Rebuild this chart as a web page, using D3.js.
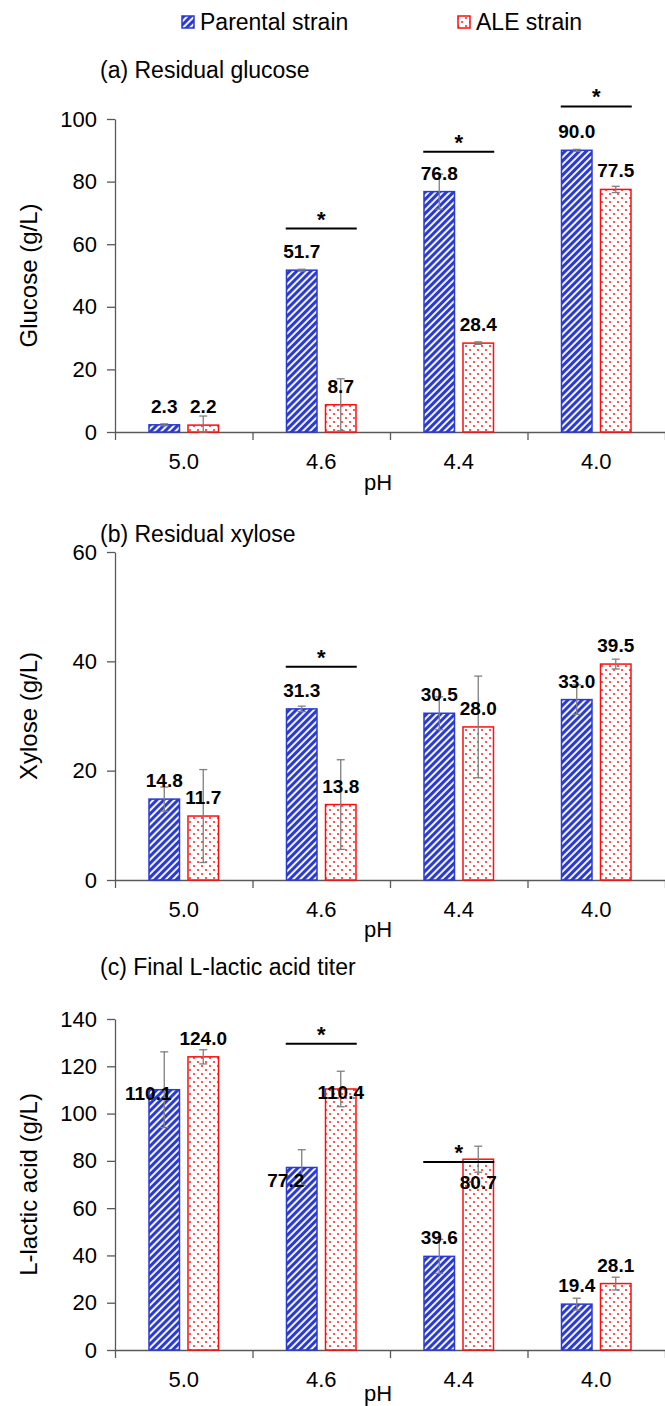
<!DOCTYPE html>
<html>
<head>
<meta charset="utf-8">
<title>Residual sugars and L-lactic acid titer</title>
<style>
  body { margin: 0; background: #fff; }
  svg { display: block; font-family: "Liberation Sans", Arial, sans-serif; }
  .tick text { font-size: 22px; fill: #000; }
  .axis path, .axis line { stroke: #595959; stroke-width: 1.3; }
</style>
</head>
<body>
<svg id="chart"></svg>
<script src="https://cdn.jsdelivr.net/npm/d3@7"></script>
<script>
// data
var categories = ["5.0", "4.6", "4.4", "4.0"];
var seriesNames = ["Parental strain", "ALE strain"];

var glucoseParental = [2.3, 51.7, 76.8, 90.0];
var glucoseParentalErr = [0.3, 0.3, 5.6, 0.3];
var glucoseAle = [2.2, 8.7, 28.4, 77.5];
var glucoseAleErr = [2.9, 8.3, 0.4, 1.0];
var glucoseSig = [null, 65, 89.5, 104];
var glucoseTicks = [0, 20, 40, 60, 80, 100];

var xyloseParental = [14.8, 31.3, 30.5, 33.0];
var xyloseParentalErr = [2.2, 0.5, 3.0, 2.7];
var xyloseAle = [11.7, 13.8, 28.0, 39.5];
var xyloseAleErr = [8.5, 8.2, 9.3, 0.9];
var xyloseSig = [null, 39, null, null];
var xyloseTicks = [0, 20, 40, 60];

var lacticParental = [110.1, 77.2, 39.6, 19.4];
var lacticParentalErr = [16.0, 7.5, 7.2, 2.5];
var lacticAle = [124.0, 110.4, 80.7, 28.1];
var lacticAleErr = [3.0, 7.5, 5.5, 2.7];
var lacticSig = [null, 129.5, 79.5, null];
var lacticTicks = [0, 20, 40, 60, 80, 100, 120, 140];

var W = 665, H = 1406;
var blue = "#2a3ad4", red = "#ff0d0d", errColor = "#7f7f7f";

var svg = d3.select("#chart").attr("width", W).attr("height", H);

// fill patterns
var defs = svg.append("defs");
var hatch = defs.append("pattern")
    .attr("id", "hatch").attr("patternUnits", "userSpaceOnUse")
    .attr("width", 5).attr("height", 5)
    .attr("patternTransform", "rotate(45)");
hatch.append("rect").attr("width", 5).attr("height", 5).attr("fill", "#fff");
hatch.append("rect").attr("width", 3.1).attr("height", 5).attr("fill", blue);

var dots = defs.append("pattern")
    .attr("id", "dots").attr("patternUnits", "userSpaceOnUse")
    .attr("width", 8).attr("height", 8);
dots.append("rect").attr("width", 8).attr("height", 8).attr("fill", "#fff");
dots.append("circle").attr("cx", 2).attr("cy", 2).attr("r", 0.95).attr("fill", red);
dots.append("circle").attr("cx", 6).attr("cy", 6).attr("r", 0.95).attr("fill", red);

var fills = ["url(#hatch)", "url(#dots)"];
var strokes = [blue, red];

// legend
var legend = svg.append("g");
var legendX = [182, 458];
seriesNames.forEach(function(name, i) {
  legend.append("rect")
    .attr("x", legendX[i]).attr("y", 16).attr("width", 12).attr("height", 12)
    .attr("fill", fills[i]).attr("stroke", strokes[i]).attr("stroke-width", 1.5);
  legend.append("text")
    .attr("x", legendX[i] + 18).attr("y", 30)
    .attr("font-size", 23).text(name);
});

var panels = [
  { title: "(a) Residual glucose", ylabel: "Glucose (g/L)", top: 119, bottom: 432, titleY: 78,
    ticks: glucoseTicks, p: glucoseParental, pe: glucoseParentalErr,
    a: glucoseAle, ae: glucoseAleErr, sig: glucoseSig, nudge: {}, phGap: 58 },
  { title: "(b) Residual xylose", ylabel: "Xylose (g/L)", top: 552, bottom: 880, titleY: 542,
    ticks: xyloseTicks, p: xyloseParental, pe: xyloseParentalErr,
    a: xyloseAle, ae: xyloseAleErr, sig: xyloseSig, nudge: {}, phGap: 57 },
  { title: "(c) Final L-lactic acid titer", ylabel: "L-lactic acid (g/L)", top: 1019, bottom: 1350, titleY: 975,
    ticks: lacticTicks, p: lacticParental, pe: lacticParentalErr,
    a: lacticAle, ae: lacticAleErr, sig: lacticSig,
    nudge: { "0-0": [-16, 22], "1-0": [-16, 32], "1-1": [0, 22], "2-1": [0, 42] }, phGap: 51 }
];

var left = 115, right = 665;

panels.forEach(function(pn, pi) {
  var g = svg.append("g");
  var ymax = d3.max(pn.ticks);

  var x = d3.scaleBand().domain(categories).range([left, right])
      .paddingInner(0.4836).paddingOuter(0.2418);
  var xs = d3.scaleBand().domain([0, 1]).range([0, x.bandwidth()]).paddingInner(0.1795);
  var xEdge = d3.scaleLinear().domain([0, categories.length]).range([left, right]);
  var y = d3.scaleLinear().domain([0, ymax]).range([pn.bottom, pn.top]);

  // title
  g.append("text").attr("x", 100).attr("y", pn.titleY)
    .attr("font-size", 23).text(pn.title);

  // y axis
  g.append("g").attr("class", "axis")
    .attr("transform", "translate(" + left + ",0)")
    .call(d3.axisLeft(y).tickValues(pn.ticks).tickFormat(d3.format("d"))
      .tickSize(8).tickSizeOuter(0).tickPadding(10));

  // x axis: boundary ticks + centred labels
  g.append("g").attr("class", "axis")
    .attr("transform", "translate(0," + pn.bottom + ")")
    .call(d3.axisBottom(xEdge).tickValues(d3.range(categories.length + 1))
      .tickFormat("").tickSize(8).tickSizeOuter(0));
  var xl = g.append("g").attr("class", "axis")
    .attr("transform", "translate(0," + pn.bottom + ")")
    .call(d3.axisBottom(x).tickSize(0).tickPadding(21));
  xl.select(".domain").remove();

  g.append("text").attr("x", 378).attr("y", pn.bottom + pn.phGap)
    .attr("text-anchor", "middle").attr("font-size", 22).text("pH");

  g.append("text")
    .attr("transform", "translate(37," + ((pn.top + pn.bottom) / 2) + ") rotate(-90)")
    .attr("text-anchor", "middle").attr("font-size", 24).text(pn.ylabel);

  var series = [
    { vals: pn.p, errs: pn.pe },
    { vals: pn.a, errs: pn.ae }
  ];

  series.forEach(function(s, si) {
    var rows = categories.map(function(c, ci) {
      return { cat: c, ci: ci, v: s.vals[ci], e: s.errs[ci] };
    });
    var cx = function(d) { return x(d.cat) + xs(si) + xs.bandwidth() / 2; };

    g.selectAll(".bar" + si).data(rows).enter().append("rect")
      .attr("x", function(d) { return x(d.cat) + xs(si) + 0.75; })
      .attr("y", function(d) { return y(d.v); })
      .attr("width", xs.bandwidth() - 1.5)
      .attr("height", function(d) { return y(0) - y(d.v); })
      .attr("fill", fills[si]).attr("stroke", strokes[si]).attr("stroke-width", 1.5);

    var eb = g.selectAll(".err" + si).data(rows).enter().append("g")
      .attr("stroke", errColor).attr("stroke-width", 1.3);
    eb.append("line")
      .attr("x1", cx).attr("x2", cx)
      .attr("y1", function(d) { return y(d.v + d.e); })
      .attr("y2", function(d) { return y(Math.max(0, d.v - d.e)); });
    [1, -1].forEach(function(sign) {
      eb.append("line")
        .attr("x1", function(d) { return cx(d) - 4; })
        .attr("x2", function(d) { return cx(d) + 4; })
        .attr("y1", function(d) { return y(Math.max(0, d.v + sign * d.e)); })
        .attr("y2", function(d) { return y(Math.max(0, d.v + sign * d.e)); });
    });

    g.selectAll(".lab" + si).data(rows).enter().append("text")
      .attr("x", function(d) {
        var n = pn.nudge[d.ci + "-" + si];
        return cx(d) + (n ? n[0] : 0);
      })
      .attr("y", function(d) {
        var n = pn.nudge[d.ci + "-" + si];
        return y(d.v) - 12 + (n ? n[1] : 0);
      })
      .attr("text-anchor", "middle").attr("font-size", 19).attr("font-weight", "bold")
      .text(function(d) { return d.v.toFixed(1); });
  });

  // significance markers
  var sigRows = categories.map(function(c, ci) { return { cat: c, s: pn.sig[ci] }; })
    .filter(function(d) { return d.s !== null; });
  g.selectAll(".sigline").data(sigRows).enter().append("line")
    .attr("x1", function(d) { return x(d.cat); })
    .attr("x2", function(d) { return x(d.cat) + x.bandwidth(); })
    .attr("y1", function(d) { return y(d.s); })
    .attr("y2", function(d) { return y(d.s); })
    .attr("stroke", "#000").attr("stroke-width", 2);
  g.selectAll(".sigstar").data(sigRows).enter().append("text")
    .attr("x", function(d) { return x(d.cat) + x.bandwidth() / 2; })
    .attr("y", function(d) { return y(d.s) - 2; })
    .attr("text-anchor", "middle").attr("font-size", 22).attr("font-weight", "bold")
    .text("*");
});
</script>
</body>
</html>
